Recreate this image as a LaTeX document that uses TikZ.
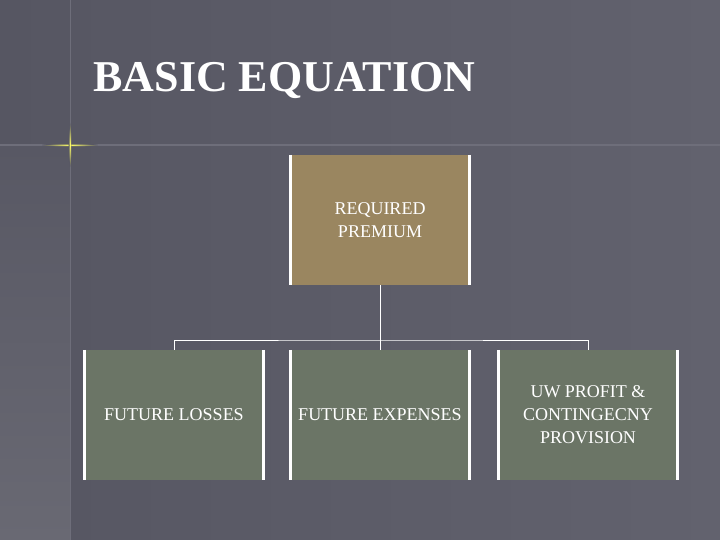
\documentclass[tikz,border=0pt]{standalone}
\usepackage{fontspec}
\setmainfont{Liberation Serif}
\begin{document}
\begin{tikzpicture}[x=1pt,y=-1pt,
  box/.style={minimum width=178pt,minimum height=130pt,inner sep=0pt,align=center,text=white,font=\fontsize{18}{23}\selectfont},
  edge/.style={draw=white,line width=3pt},
  conn/.style={draw=white,line width=1pt}]
\useasboundingbox (0,0) rectangle (720,540);
\shade[left color={rgb,255:red,86;green,86;blue,98},right color={rgb,255:red,98;green,98;blue,110}] (0,0) rectangle (720,540);
\shade[top color={rgb,255:red,88;green,88;blue,100},bottom color={rgb,255:red,105;green,105;blue,115}] (0,145) rectangle (70,540);
\draw[color={rgb,255:red,110;green,110;blue,122},line width=1.5pt] (0,145) -- (720,145);
\draw[color={rgb,255:red,110;green,110;blue,122},line width=1pt] (70,0) -- (70,540);
\shade[inner color=yellow!60,outer color={rgb,255:red,88;green,88;blue,100}] (70,145) ellipse (28 and 1.5);
\shade[inner color=yellow!60,outer color={rgb,255:red,88;green,88;blue,100}] (70,145) ellipse (1.5 and 22);
\node[text=white,font=\bfseries\fontsize{44}{44}\selectfont,anchor=west] (t) at (90,81) {BASIC EQUATION};
\node[box,fill={rgb,255:red,154;green,134;blue,96}] (top) at (380,220) {REQUIRED\\PREMIUM};
\node[box,fill={rgb,255:red,107;green,117;blue,102}] (a) at (174,415) {FUTURE LOSSES};
\node[box,fill={rgb,255:red,107;green,117;blue,102}] (b) at (380,415) {FUTURE EXPENSES};
\node[box,fill={rgb,255:red,107;green,117;blue,102}] (c) at (588,415) {UW PROFIT \&\\CONTINGECNY\\PROVISION};
\foreach \n in {top,a,b,c}{
  \draw[edge] (\n.north west) -- (\n.south west);
  \draw[edge] (\n.north east) -- (\n.south east);}
\coordinate (j) at (380,340);
\draw[conn] (top.south) -- (j);
\draw[conn] (a.north) |- (j) -| (c.north);
\draw[conn] (j) -- (b.north);
\end{tikzpicture}
\end{document}
